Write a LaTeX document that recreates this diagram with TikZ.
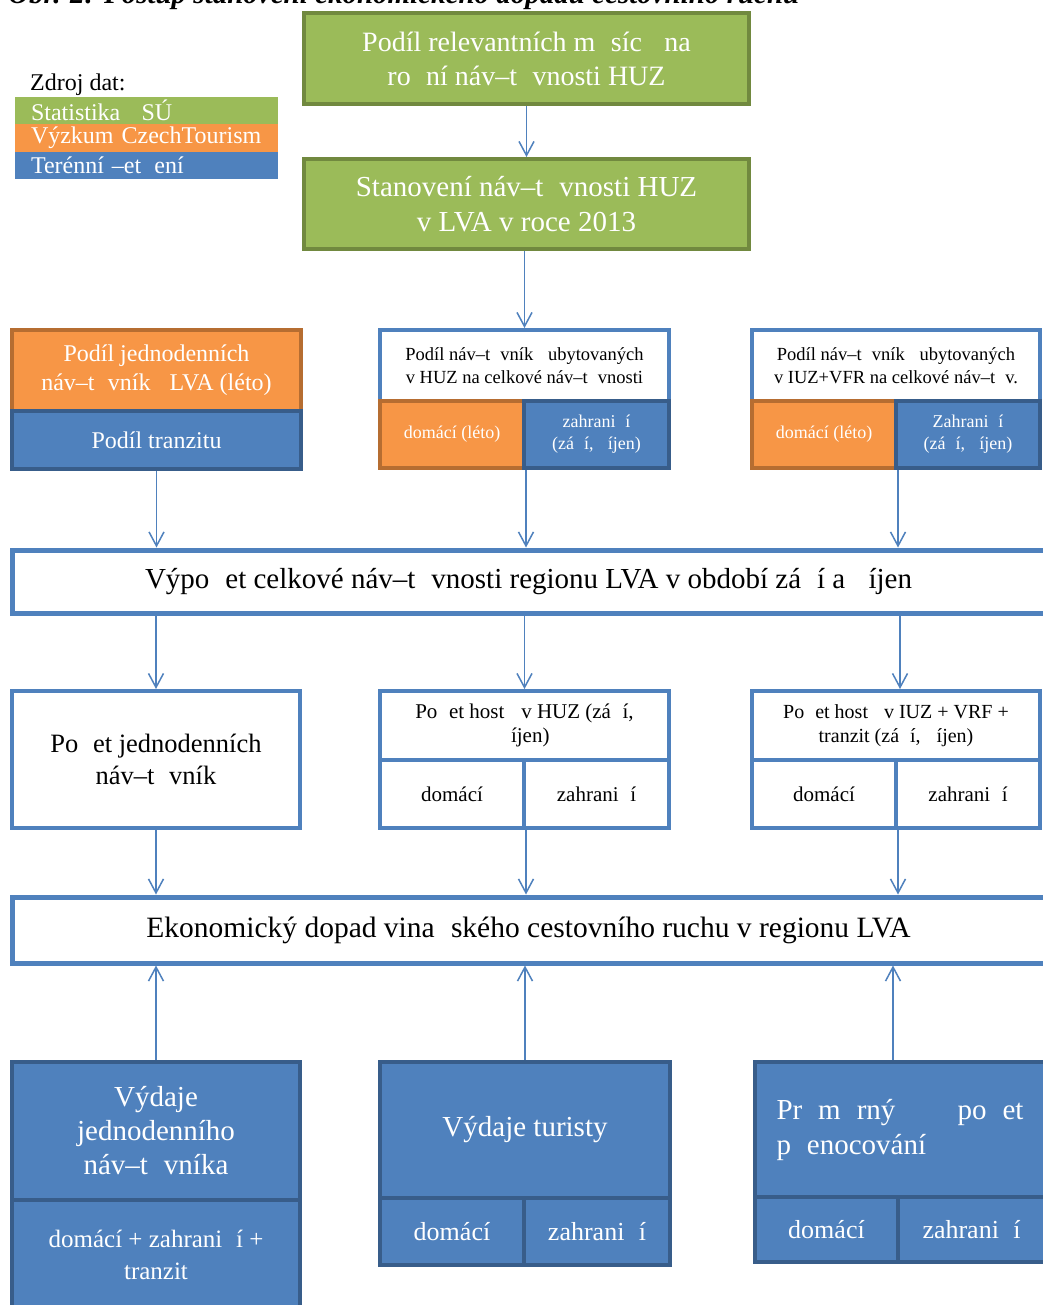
\documentclass[tikz,border=0pt]{standalone}
\usepackage{fontspec}
\setmainfont{Liberation Serif}
\usetikzlibrary{arrows.meta}
\definecolor{gfill}{HTML}{9BBB59}
\definecolor{gline}{HTML}{71893F}
\definecolor{ofill}{HTML}{F79646}
\definecolor{oline}{HTML}{B66D31}
\definecolor{bfill}{HTML}{4F81BD}
\definecolor{bline}{HTML}{385D8A}
\newcommand{\gp}{\hspace{0.55em}}
\newcommand{\fsz}[2]{\fontsize{#1}{#2}\selectfont}
\begin{document}
\begin{tikzpicture}[x=1pt,y=-1pt,
  box/.style={inner sep=0pt, align=center, line width=4pt},
  greenbox/.style={box, fill=gfill, draw=gline, text=white},
  orangebox/.style={box, fill=ofill, draw=oline, text=white},
  bluebox/.style={box, fill=bfill, draw=bline, text=white},
  whitebox/.style={box, fill=white, draw=bfill, text=black},
  bigbox/.style={box, fill=white, draw=bfill, text=black, line width=5pt},
  legbar/.style={inner xsep=16pt, inner ysep=0pt, text width=231pt, align=left,
    text=white, font=\fsz{24}{27}},
  conn/.style={draw=bfill, line width=1.5pt, -{Straight Barb[length=14pt,width=15pt,line width=1.5pt]}},
]
\useasboundingbox (0,0) rectangle (1042,1305);
\fill[white] (0,0) rectangle (1042,1305);

% title (cut at top)
\node[anchor=base west, inner sep=0pt, font=\bfseries\itshape\fsz{29}{32}] (title) at (8,4)
  {Obr. 2: Postup stanovení ekonomického dopadu cestovního ruchu};

% legend
\node[anchor=base west, inner sep=0pt, font=\fsz{24}{27}] (zdroj) at (30,91) {Zdroj dat:};
\node[legbar, fill=gfill, minimum height=27pt] (lg) at (146.5,110.5) {Statistika \gp SÚ};
\node[legbar, fill=ofill, minimum height=28pt] (lo) at (146.5,138) {Výzkum CzechTourism};
\node[legbar, fill=bfill, minimum height=27pt] (lb) at (146.5,165.5) {Terénní –et\gp{}ení};

% top boxes
\node[greenbox, minimum width=445pt, minimum height=91pt, font=\fsz{28}{34}] (b1) at (526.5,58.5)
  {Podíl relevantních m\gp{}síc\gp{} na\\ro\gp{}ní náv–t\gp{}vnosti HUZ};
\node[greenbox, minimum width=445pt, minimum height=90pt, font=\fsz{29}{35}] (b2) at (526.5,204)
  {Stanovení náv–t\gp{}vnosti HUZ\\v LVA v roce 2013};
\draw[conn] (b1.south) -- (b2.north);

% row 3 left
\node[orangebox, minimum width=289pt, minimum height=81pt, font=\fsz{24}{29}] (l3o) at (156.5,370.5)
  {Podíl jednodenních\\náv–t\gp{}vník\gp{} LVA (léto)};
\node[bluebox, minimum width=289pt, minimum height=58pt, font=\fsz{24}{27}] (l3b) at (156.5,440)
  {Podíl tranzitu};

% row 3 middle
\node[whitebox, minimum width=289pt, minimum height=71pt, font=\fsz{18.5}{23}] (m3w) at (524.5,365.5)
  {Podíl náv–t\gp{}vník\gp{} ubytovaných\\v HUZ na celkové náv–t\gp{}vnosti};
\draw[conn] (b2.south -| m3w.north) -- (m3w.north);
\node[orangebox, minimum width=144pt, minimum height=67pt, font=\fsz{18}{22}] (m3o) at (452,434.5)
  {domácí (léto)};
\node[bluebox, minimum width=145pt, minimum height=67pt, font=\fsz{18}{22}] (m3b) at (596.5,434.5)
  {zahrani\gp{}í\\(zá\gp{}í, \gp{}íjen)};

% row 3 right
\node[whitebox, minimum width=288pt, minimum height=71pt, font=\fsz{18.5}{23}] (r3w) at (896,365.5)
  {Podíl náv–t\gp{}vník\gp{} ubytovaných\\v IUZ+VFR na celkové náv–t\gp{}v.};
\node[orangebox, minimum width=144pt, minimum height=67pt, font=\fsz{18}{22}] (r3o) at (824,434.5)
  {domácí (léto)};
\node[bluebox, minimum width=144pt, minimum height=67pt, font=\fsz{18}{22}] (r3b) at (968,434.5)
  {Zahrani\gp{}í\\(zá\gp{}í, \gp{}íjen)};

% big box 4
\node[bigbox, minimum width=1033pt, minimum height=63pt, font=\fsz{29}{32}] (big4) at (528.5,581.5)
  {Výpo\gp{}et celkové náv–t\gp{}vnosti regionu LVA v období zá\gp{}í a \gp{}íjen};
\draw[conn] (l3b.south) -- (l3b.south |- big4.north);
\draw[conn] (m3o.south east) -- (m3o.south east |- big4.north);
\draw[conn] (r3o.south east) -- (r3o.south east |- big4.north);

% row 5
\node[whitebox, minimum width=288pt, minimum height=137pt, font=\fsz{26.5}{32}] (l5) at (156,759.5)
  {Po\gp{}et jednodenních\\náv–t\gp{}vník\gp{}};
\node[whitebox, minimum width=289pt, minimum height=69pt, font=\fsz{21}{24}] (m5w) at (524.5,725.5)
  {Po\gp{}et host\gp{} v HUZ (zá\gp{}í,\\\gp{}íjen)};
\node[whitebox, minimum width=144pt, minimum height=68pt, font=\fsz{21}{24}] (m5l) at (452,794) {domácí};
\node[whitebox, minimum width=145pt, minimum height=68pt, font=\fsz{21}{24}] (m5r) at (596.5,794) {zahrani\gp{}í};
\node[whitebox, minimum width=288pt, minimum height=69pt, font=\fsz{20}{24}] (r5w) at (896,725.5)
  {Po\gp{}et host\gp{} v IUZ + VRF +\\tranzit (zá\gp{}í, \gp{}íjen)};
\node[whitebox, minimum width=144pt, minimum height=68pt, font=\fsz{21}{24}] (r5l) at (824,794) {domácí};
\node[whitebox, minimum width=144pt, minimum height=68pt, font=\fsz{21}{24}] (r5r) at (968,794) {zahrani\gp{}í};
\draw[conn] (big4.south -| l5.north) -- (l5.north);
\draw[conn] (big4.south -| m5w.north) -- (m5w.north);
\draw[conn] ([xshift=4pt]big4.south -| r5w.north) -- ([xshift=4pt]r5w.north);

% big box 6
\node[bigbox, minimum width=1033pt, minimum height=66pt, font=\fsz{29.5}{32}] (big6) at (528.5,930)
  {Ekonomický dopad vina\gp{}ského cestovního ruchu v regionu LVA};
\draw[conn] (l5.south) -- (l5.south |- big6.north);
\draw[conn] (m5l.south east) -- (m5l.south east |- big6.north);
\draw[conn] (r5l.south east) -- (r5l.south east |- big6.north);

% row 6
\node[bluebox, minimum width=288pt, minimum height=138pt, font=\fsz{29}{34}] (l6t) at (156,1131)
  {Výdaje\\jednodenního\\náv–t\gp{}vníka};
\node[bluebox, minimum width=288pt, minimum height=110pt, font=\fsz{25}{32}] (l6b) at (156,1255)
  {domácí + zahrani\gp{}í +\\tranzit};
\node[bluebox, minimum width=290pt, minimum height=136pt, font=\fsz{29}{34}] (m6t) at (525,1130)
  {Výdaje turisty};
\node[bluebox, minimum width=144pt, minimum height=67pt, font=\fsz{26}{28}] (m6l) at (452,1231.5) {domácí};
\node[bluebox, minimum width=146pt, minimum height=67pt, font=\fsz{26}{28}] (m6r) at (597,1231.5) {zahrani\gp{}í};
\node[bluebox, minimum width=290pt, minimum height=135pt, text width=247pt, align=left, font=\fsz{29}{35}] (r6t) at (900,1129.5)
  {Pr\gp{}m\gp{}rný\hfill po\gp{}et\\p\gp{}enocování};
\node[bluebox, minimum width=143pt, minimum height=65pt, font=\fsz{26}{28}] (r6l) at (826.5,1229.5) {domácí};
\node[bluebox, minimum width=147pt, minimum height=65pt, font=\fsz{26}{28}] (r6r) at (971.5,1229.5) {zahrani\gp{}í};
\draw[conn] (l6t.north) -- (l6t.north |- big6.south);
\draw[conn] (m6t.north) -- (m6t.north |- big6.south);
\draw[conn] ([xshift=-7pt]r6t.north) -- ([xshift=-7pt]r6t.north |- big6.south);
\end{tikzpicture}
\end{document}
